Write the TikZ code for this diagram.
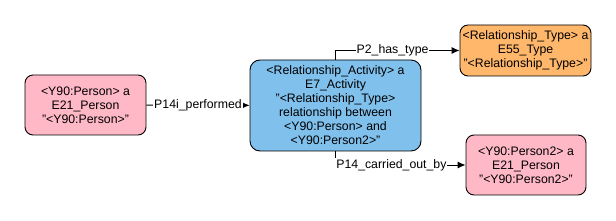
\documentclass[tikz,border=0pt]{standalone}
\usepackage{fontspec}
\setmainfont{Liberation Sans}
\usetikzlibrary{arrows.meta}
\definecolor{pinkfill}{HTML}{FFB8C6}
\definecolor{bluefill}{HTML}{80C0EC}
\definecolor{orangefill}{HTML}{FFB76B}
\tikzset{
  ent/.style={draw=black, line width=0.9pt, rounded corners=8pt, align=center, inner sep=2pt,
    font=\fontsize{12.3}{14}\selectfont},
  conn/.style={draw=black, line width=0.9pt, -{Latex[length=8pt,width=7pt]}},
  lbl/.style={fill=white, inner sep=1pt, font=\fontsize{12.3}{14}\selectfont}
}
\begin{document}
\begin{tikzpicture}[x=1pt,y=-1pt]
\useasboundingbox[fill=white] (0,0) rectangle (616,221);
\node[ent, fill=pinkfill, minimum width=121pt, minimum height=60pt] (p1) at (85.5,105)
  {<Y90:Person> a\\E21\_Person\\"<Y90:Person>"};
\node[ent, fill=bluefill, minimum width=171pt, minimum height=91pt, rounded corners=10pt] (act) at (335.5,105.5)
  {<Relationship\_Activity> a\\E7\_Activity\\"<Relationship\_Type>\\relationship between\\<Y90:Person> and\\<Y90:Person2>"};
\node[ent, fill=orangefill, minimum width=131pt, minimum height=51pt] (typ) at (525.5,50.5)
  {<Relationship\_Type> a\\E55\_Type\\"<Relationship\_Type>"};
\node[ent, fill=pinkfill, minimum width=120pt, minimum height=60pt] (p2) at (526,165)
  {<Y90:Person2> a\\E21\_Person\\"<Y90:Person2>"};
\draw[conn] (p1) -- node[lbl] {P14i\_performed} (act);
\draw[conn] (act.north) |- node[lbl, pos=0.73] {P2\_has\_type} (typ.west);
\draw[conn] (act.south) |- node[lbl, pos=0.715] {P14\_carried\_out\_by} (p2.west);
\end{tikzpicture}
\end{document}
